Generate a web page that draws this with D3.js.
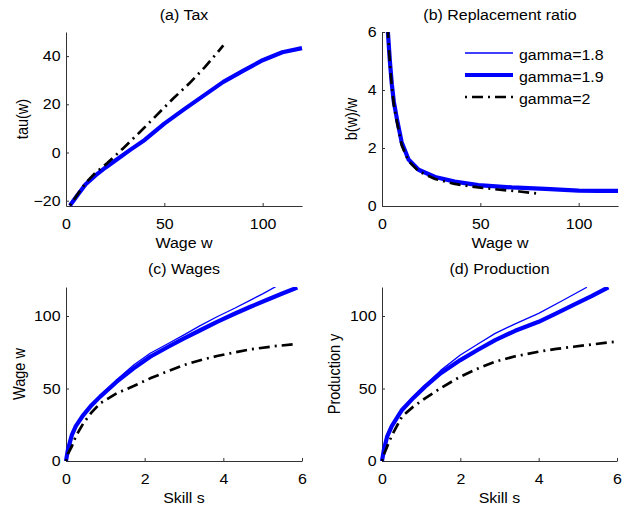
<!DOCTYPE html>
<html>
<head>
<meta charset="utf-8">
<script src="https://cdn.jsdelivr.net/npm/d3@7"></script>
<style>
  body { margin: 0; background: #fff; }
  svg { display: block; }
  text { font-family: "Liberation Sans", Arial, Helvetica, sans-serif; fill: #000; }
</style>
</head>
<body>
<div id="chart"></div>
<script>
// ---- data ----
// (a) Tax
let taxWage   = [2, 6, 10, 15, 20, 26, 33, 40, 50, 60, 70, 80, 90, 100, 110, 120];
let taxG18    = [-22, -17.6, -13.4, -9.8, -6.6, -3.1, 0.9, 4.9, 11.6, 17.5, 23.3, 29.6, 34.3, 38.6, 41.4, 43.0];
let taxG19    = [-22, -17.5, -13.2, -9.5, -6.3, -2.8, 1.3, 5.2, 12.0, 17.9, 23.6, 29.3, 33.9, 38.3, 41.6, 43.3];
let taxWage2  = [2, 6, 10, 15, 21, 29, 37.6, 46, 54.5, 62.6, 70.6, 80];
let taxG2     = [-22, -17.2, -12.6, -8.4, -4.4, 1.7, 8.5, 15.4, 22.4, 28.6, 35.4, 44.4];

// (b) Replacement ratio
let ratioWage  = [2.5, 3, 4, 5, 6, 7.6, 10, 13.5, 18.6, 27, 37, 49, 66, 83, 100, 110, 120];
let ratioG18   = [7.2, 6.0, 5.0, 4.25, 3.62, 3.02, 2.18, 1.62, 1.27, 1.01, 0.85, 0.73, 0.65, 0.6, 0.54, 0.53, 0.53];
let ratioG19   = [7.2, 6.0, 5.0, 4.2, 3.6, 3.0, 2.2, 1.6, 1.25, 1.0, 0.84, 0.72, 0.64, 0.59, 0.53, 0.52, 0.52];
let ratioWage2 = [2.5, 3, 4, 5, 6, 7.6, 10, 13.5, 18.6, 27, 37, 49, 60, 70, 80];
let ratioG2    = [7.2, 6.0, 4.9, 4.1, 3.5, 2.9, 2.1, 1.55, 1.2, 0.93, 0.76, 0.64, 0.56, 0.5, 0.42];

// (c) Wages
let wageSkill18 = [0, 0.05, 0.15, 0.25, 0.44, 0.65, 0.87, 1.29, 1.72, 2.14, 2.6, 3.0, 3.4, 3.84, 4.3, 4.69, 5.0, 5.33];
let wageG18     = [0, 8, 18.3, 24.5, 32.3, 39.3, 45.4, 56, 66.2, 74.3, 81, 87, 93.2, 99.5, 105.5, 111, 115.3, 120.2];
let wageSkill19 = [0, 0.05, 0.15, 0.25, 0.44, 0.65, 0.87, 1.29, 1.72, 2.14, 2.6, 3.0, 3.4, 3.84, 4.3, 4.69, 5.1, 5.5, 5.88];
let wageG19     = [0, 8, 18, 24, 31.7, 38.5, 44.4, 54.7, 63.9, 71.9, 78.8, 84.6, 90, 96, 101.7, 106.4, 111, 115.5, 119.6];
let wageSkill2  = [0, 0.05, 0.145, 0.25, 0.44, 0.65, 0.87, 1.29, 1.72, 2.14, 2.6, 3.0, 3.5, 3.84, 4.3, 4.69, 5.3, 5.88];
let wageG2      = [0, 5, 9.9, 17, 26, 33.5, 39.8, 46.7, 51.7, 57, 62, 66.2, 70.2, 72.4, 75, 77, 79.2, 80.7];

// (d) Production
let prodSkill18 = [0, 0.05, 0.13, 0.25, 0.51, 0.8, 1.1, 1.5, 2.0, 2.45, 2.89, 3.4, 4.0, 4.6, 5.23];
let prodG18     = [0, 8, 17, 24.5, 35.8, 44.5, 52.5, 62.5, 73.1, 80.7, 88, 94.6, 101.8, 110.5, 119.8];
let prodSkill19 = [0, 0.05, 0.13, 0.25, 0.51, 0.8, 1.1, 1.5, 2.0, 2.45, 2.89, 3.4, 4.0, 4.45, 4.89, 5.35, 5.78];
let prodG19     = [0, 8, 16.8, 24, 35.2, 43.5, 51.3, 60.5, 69.6, 76.7, 83.4, 89.8, 96, 101.8, 107.6, 113.7, 119.8];
let prodSkill2  = [0, 0.05, 0.13, 0.25, 0.51, 0.8, 1.1, 1.5, 2.0, 2.45, 2.89, 3.4, 4.0, 4.45, 4.89, 5.4, 5.95];
let prodG2      = [0, 4.5, 9.9, 17.5, 30.6, 37.5, 43.2, 50.3, 58.2, 63.8, 68.5, 72.2, 75.4, 77.3, 78.8, 80.5, 82.3];

let seriesNames = ["gamma=1.8", "gamma=1.9", "gamma=2"];

// ---- look ----
let FS = 14.5, STRETCH = 1.1;
let styles = [
  { color: "#0000ff", width: 1.3, dash: null },
  { color: "#0000ff", width: 4.2, dash: null },
  { color: "#000000", width: 2.7, dash: "2,5,11,5" }
];

function zip(xs, ys) { return xs.map(function(v, i) { return [v, ys[i]]; }); }

let panels = [
  { title: "(a) Tax", left: 66, top: 32, width: 236, height: 174,
    xDomain: [0, 120], yDomain: [-22.2, 50], xTicks: [0, 50, 100], yTicks: [-20, 0, 20, 40],
    xLabel: "Wage w", yLabel: "tau(w)", yLabelX: 22, titleGap: 12,
    lines: [zip(taxWage, taxG18), zip(taxWage, taxG19), zip(taxWage2, taxG2)] },
  { title: "(b) Replacement ratio", left: 382, top: 32, width: 236, height: 174,
    xDomain: [0, 120], yDomain: [0, 6], xTicks: [0, 50, 100], yTicks: [0, 2, 4, 6],
    xLabel: "Wage w", yLabel: "b(w)/w", yLabelX: 351, titleGap: 12, legend: true,
    lines: [zip(ratioWage, ratioG18), zip(ratioWage, ratioG19), zip(ratioWage2, ratioG2)] },
  { title: "(c) Wages", left: 66, top: 287, width: 236, height: 174,
    xDomain: [0, 6], yDomain: [0, 120], xTicks: [0, 2, 4, 6], yTicks: [0, 50, 100],
    xLabel: "Skill s", yLabel: "Wage w", yLabelX: 19, titleGap: 13,
    lines: [zip(wageSkill18, wageG18), zip(wageSkill19, wageG19), zip(wageSkill2, wageG2)] },
  { title: "(d) Production", left: 382, top: 287, width: 235, height: 174,
    xDomain: [0, 6], yDomain: [0, 120], xTicks: [0, 2, 4, 6], yTicks: [0, 50, 100],
    xLabel: "Skill s", yLabel: "Production y", yLabelX: 334, titleGap: 13,
    lines: [zip(prodSkill18, prodG18), zip(prodSkill19, prodG19), zip(prodSkill2, prodG2)] }
];

let svg = d3.select("#chart").append("svg")
  .attr("width", 625)
  .attr("height", 512);

// text helper: the figure's lettering is slightly wide, so stretch it horizontally
function addText(parent, x, y, str, anchor, rotate) {
  return parent.append("text")
    .attr("transform", "translate(" + x + "," + y + ") scale(" + STRETCH + ",1)" + (rotate ? " rotate(-90)" : ""))
    .attr("text-anchor", anchor)
    .style("font-size", FS + "px")
    .text(str);
}

let fmt = d3.format("d");

panels.forEach(function(p, pi) {
  let g = svg.append("g").attr("transform", "translate(" + p.left + "," + p.top + ")");

  let x = d3.scaleLinear().domain(p.xDomain).range([0, p.width]);
  let y = d3.scaleLinear().domain(p.yDomain).range([p.height, 0]);

  // clip so curves that leave the top (panel b) are cut at the axes
  let clipId = "clip" + pi;
  g.append("clipPath").attr("id", clipId)
    .append("rect").attr("x", -4).attr("y", 0).attr("width", p.width + 8).attr("height", p.height + 4);

  // axes (inward ticks, no box)
  let xAxis = g.append("g")
    .attr("transform", "translate(0," + p.height + ")")
    .call(d3.axisBottom(x).tickValues(p.xTicks).tickFormat(fmt).tickSizeInner(-3).tickSizeOuter(0).tickPadding(13));
  let yAxis = g.append("g")
    .call(d3.axisLeft(y).tickValues(p.yTicks).tickFormat(fmt).tickSizeInner(-3).tickSizeOuter(0).tickPadding(5));

  [xAxis, yAxis].forEach(function(a) {
    a.select(".domain").attr("stroke", "#333");
    a.selectAll(".tick line").attr("stroke", "#333");
    a.selectAll(".tick text")
      .attr("fill", "#000")
      .style("font-family", "\"Liberation Sans\", Arial, sans-serif")
      .style("font-size", FS + "px")
      .attr("transform", "scale(" + STRETCH + ",1)");
  });

  // curves
  let line = d3.line()
    .x(function(d) { return x(d[0]); })
    .y(function(d) { return y(d[1]); });

  let plot = g.append("g").attr("clip-path", "url(#" + clipId + ")");
  p.lines.forEach(function(pts, si) {
    let st = styles[si];
    let path = plot.append("path")
      .datum(pts)
      .attr("fill", "none")
      .attr("stroke", st.color)
      .attr("stroke-width", st.width)
      .attr("stroke-linejoin", "round")
      .attr("d", line);
    if (st.dash) path.attr("stroke-dasharray", st.dash);
  });

  // titles and labels
  addText(g, p.width / 2, -p.titleGap, p.title, "middle");
  addText(g, p.width / 2, p.height + 42, p.xLabel, "middle");
  addText(svg, p.yLabelX, p.top + p.height / 2, p.yLabel, "middle", true).attr("dy", "0.35em");

  if (p.legend) {
    let lg = svg.append("g");
    seriesNames.forEach(function(name, si) {
      let st = styles[si];
      let ly = 53 + si * 22;
      let l = lg.append("line")
        .attr("x1", 465).attr("x2", 513)
        .attr("y1", ly).attr("y2", ly)
        .attr("stroke", st.color)
        .attr("stroke-width", st.width);
      if (st.dash) l.attr("stroke-dasharray", st.dash);
      addText(lg, 519, ly + 6.5, name, "start");
    });
  }
});
</script>
</body>
</html>
